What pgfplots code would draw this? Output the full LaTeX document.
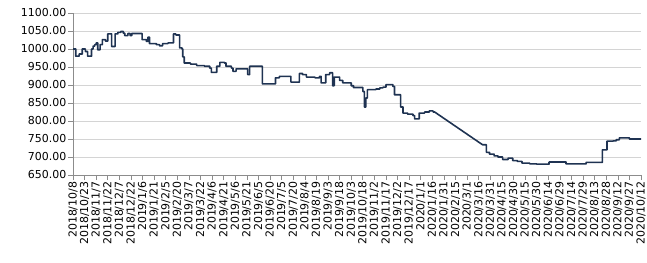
\documentclass[border=0pt]{standalone}
\usepackage{fontspec}
\setmainfont{DejaVu Sans}
\usepackage{pgfplots}
\pgfplotsset{compat=1.18}
\definecolor{navy}{HTML}{1F3352}
\definecolor{gridc}{HTML}{D4D4D4}
\definecolor{axc}{HTML}{8C8C8C}
\begin{document}
\begin{tikzpicture}
\useasboundingbox (-73bp,-88bp) rectangle (574bp,175bp);
\begin{axis}[
  at={(0,0)}, anchor=south west,
  scale only axis,
  width=568bp, height=162bp,
  xmin=0, xmax=735, ymin=650, ymax=1100,
  axis x line*=bottom, axis y line*=left,
  axis line style={axc, line width=0.8pt},
  xtick={0,15,...,735},
  xticklabels={2018/10/8,2018/10/23,2018/11/7,2018/11/22,2018/12/7,2018/12/22,2019/1/6,2019/1/21,2019/2/5,2019/2/20,2019/3/7,2019/3/22,2019/4/6,2019/4/21,2019/5/6,2019/5/21,2019/6/5,2019/6/20,2019/7/5,2019/7/20,2019/8/4,2019/8/19,2019/9/3,2019/9/18,2019/10/3,2019/10/18,2019/11/2,2019/11/17,2019/12/2,2019/12/17,2020/1/1,2020/1/16,2020/1/31,2020/2/15,2020/3/1,2020/3/16,2020/3/31,2020/4/15,2020/4/30,2020/5/15,2020/5/30,2020/6/14,2020/6/29,2020/7/14,2020/7/29,2020/8/13,2020/8/28,2020/9/12,2020/9/27,2020/10/12},
  x tick label style={rotate=90, anchor=east, font=\fontsize{11}{13}\selectfont, inner sep=1.5pt},
  ytick={650,700,...,1100},
  y tick label style={font=\fontsize{11}{13}\selectfont, inner sep=1.5pt},
  yticklabel style={/pgf/number format/.cd, fixed, fixed zerofill, precision=2, 1000 sep={}, assume math mode=true},
  tick align=outside, major tick length=5bp,
  tick style={axc, line width=0.6pt},
  ymajorgrids, xmajorgrids=false,
  grid style={gridc, line width=0.8pt},
  clip=false,
]
\addplot[navy, line width=1.6pt, line join=round] coordinates {
(0,1000)(3.5,1000)(3.5,980)(8,980)(8,986)(12,986)(12,1000)(16,1000)(16,993)(19,993)(19,980)(24,980)(24,1000)(26,1000)(26,1008)(28,1008)(28,1012)(30,1012)(30,1017)(32,1017)(32,998)(35,998)(35,1012)(38,1012)(38,1026)(42,1026)(42,1022)(45,1022)(45,1042)(50,1042)(50,1007)(54.5,1007)(54.5,1042)(58,1042)(58,1046)(62,1046)(62,1049)(65,1049)(65,1044)(67,1044)(67,1037)(71,1037)(71,1043)(74,1043)(74,1037)(76,1037)(76,1043)(89.5,1043)(89.5,1026)(95,1026)(95,1021)(97,1021)(97,1033)(99,1033)(99,1015)(108,1015)(108,1012)(112,1012)(112,1009)(116,1009)(116,1015)(123,1015)(123,1017)(130,1017)(130,1042)(133,1042)(133,1039)(138,1039)(138,1003)(141,1003)(141,1000)(142,1000)(142,978)(144,978)(144,961)(152,961)(152,958)(160,958)(160,954)(170,954)(170,952)(177,952)(177,947)(179,947)(179,935)(186,935)(186,952)(190,952)(190,963)(196,963)(196,961)(198,961)(198,952)(205,952)(205,947)(207,947)(207,938)(211,938)(211,945)(226,945)(226,929)(228.6,929)(228.6,952)(245,952)(245,903)(262,903)(262,920)(267,920)(267,924)(282,924)(282,908)(293,908)(293,932)(297,932)(297,929)(302,929)(302,922)(313,922)(313,920)(319,920)(319,924)(321,924)(321,906)(327,906)(327,929)(332,929)(332,934)(336,934)(336,898)(338,898)(338,922)(345,922)(345,913)(349,913)(349,906)(360,906)(360,898)(363,898)(363,893)(375,893)(375,882)(377,882)(377,839)(379,839)(379,864)(381,864)(381,887)(392,887)(392,889)(397,889)(397,892)(401,892)(401,894)(405,894)(405,901)(414,901)(414,896)(416,896)(416,873)(424,873)(424,839)(427,839)(427,822)(433,822)(433,819)(440,819)(440,815)(442,815)(442,806)(448,806)(448,822)(455,822)(455,825)(461,825)(461,828)(466,828)(466,825)(468,825)(470,822)(530,734)(535,734)(535,713)(539,713)(539,708)(545,708)(545,703)(550,703)(550,700)(556,700)(556,693)(563,693)(563,697)(569,697)(569,690)(575,690)(575,688)(581,688)(581,683)(591,683)(591,681)(600,681)(600,680)(616,680)(616,686)(638,686)(638,681)(664,681)(664,685)(685,685)(685,720)(691,720)(691,744)(699,744)(699,745)(703,745)(703,748)(707,748)(707,753)(720,753)(720,750)(735,750)
};
\end{axis}
\end{tikzpicture}
\end{document}
